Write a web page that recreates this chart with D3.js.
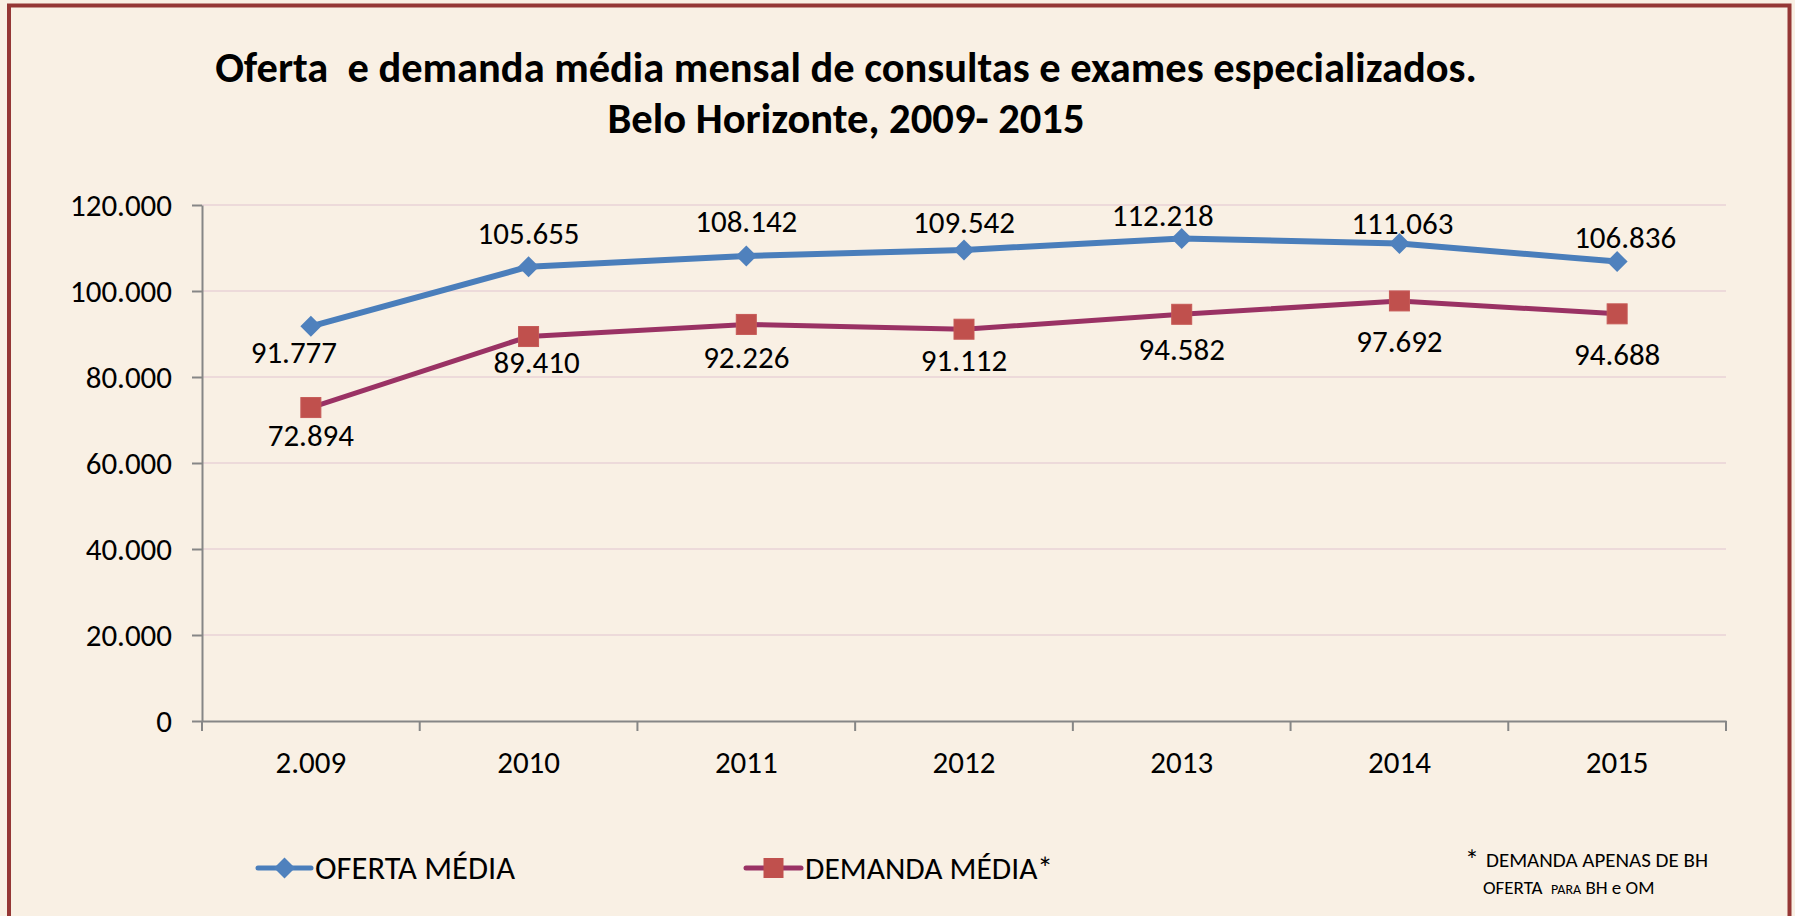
<!DOCTYPE html>
<html>
<head>
<meta charset="utf-8">
<script src="https://cdn.jsdelivr.net/npm/d3@7"></script>
<style>
  html, body { margin: 0; padding: 0; background: #F9F0E4; }
  svg { display: block; }
  text { font-family: Carlito, Calibri, Lato, "Open Sans", sans-serif; fill: #000; }
</style>
</head>
<body>
<svg id="chart" width="1795" height="916"></svg>
<script>
// ---- data ----
const categories = ["2.009", "2010", "2011", "2012", "2013", "2014", "2015"];
const oferta = [91777, 105655, 108142, 109542, 112218, 111063, 106836];
const demanda = [72894, 89410, 92226, 91112, 94582, 97692, 94688];
const seriesNames = ["OFERTA MÉDIA", "DEMANDA MÉDIA*"];
const yTicks = [0, 20000, 40000, 60000, 80000, 100000, 120000];
const titleLines = ["Oferta  e demanda média mensal de consultas e exames especializados.", "Belo Horizonte, 2009- 2015"];

// ---- layout: data-label nudges (baseline offset from point, px), as placed in the original ----
const ofertaLabelDy = [37, -23, -24, -17, -12, -9, -14];
const ofertaLabelDx = [-17, 0, 0, 0, -19, 3, 8];
const demandaLabelDy = [38, 36, 44, 42, 46, 51, 51];
const demandaLabelDx = [0, 8, 0, 0, 0, 0, 0];

const W = 1795, H = 916;
const svg = d3.select("#chart");
const locale = d3.formatLocale({decimal: ",", thousands: ".", grouping: [3], currency: ["R$", ""]});
const fmt = locale.format(",d");

function fit(sel, target) {
  const node = sel.node();
  let fs = parseFloat(sel.attr("font-size"));
  for (let i = 0; i < 3; i++) {
    const w = node.getComputedTextLength();
    fs = fs * target / w;
    sel.attr("font-size", fs);
  }
  return fs;
}

// background + border
svg.append("rect").attr("x", 0).attr("y", 0).attr("width", W).attr("height", H).attr("fill", "#F9F0E4");
svg.append("path")
  .attr("d", `M9,${H + 5} V5.5 H1789.5 V${H + 5}`)
  .attr("fill", "none").attr("stroke", "#953735").attr("stroke-width", 4);

// title
const t1 = svg.append("text").attr("x", 846).attr("y", 82).attr("text-anchor", "middle")
  .attr("font-weight", "bold").attr("font-size", 40).attr("xml:space", "preserve")
  .style("white-space", "pre").text(titleLines[0]);
fit(t1, 1262);
const t2 = svg.append("text").attr("x", 846).attr("y", 133).attr("text-anchor", "middle")
  .attr("font-weight", "bold").attr("font-size", 40).text(titleLines[1]);
fit(t2, 477);

// scales
const plot = {left: 202, right: 1726, top: 205, bottom: 721};
const x = d3.scaleBand().domain(categories).range([plot.left, plot.right]).paddingInner(0).paddingOuter(0);
const y = d3.scaleLinear().domain([0, 120000]).range([plot.bottom, plot.top]);
const cx = d => x(d) + x.bandwidth() / 2;

// measure base label font size
const probe = svg.append("text").attr("font-size", 28).text("120.000");
const labelFs = fit(probe, 102);
probe.remove();

// gridlines
svg.append("g").selectAll("line").data(yTicks.filter(d => d > 0)).join("line")
  .attr("x1", plot.left).attr("x2", plot.right)
  .attr("y1", d => y(d)).attr("y2", d => y(d))
  .attr("stroke", "#EDDADA").attr("stroke-width", 2);

// y axis
const yAxis = svg.append("g").attr("transform", `translate(${plot.left},0)`)
  .call(d3.axisLeft(y).tickValues(yTicks).tickFormat(fmt).tickSize(10).tickSizeOuter(0).tickPadding(20));
yAxis.select(".domain").attr("stroke", "#868686").attr("stroke-width", 2);
yAxis.selectAll(".tick line").attr("stroke", "#868686").attr("stroke-width", 2);
yAxis.selectAll(".tick text").attr("font-size", labelFs).attr("font-family", null).attr("fill", "#000").attr("dy", "0.35em");

// x axis
const xAxis = svg.append("g").attr("transform", `translate(0,${plot.bottom})`)
  .call(d3.axisBottom(x).tickSize(0).tickSizeOuter(0).tickPadding(30));
xAxis.select(".domain").attr("stroke", "#868686").attr("stroke-width", 2);
xAxis.selectAll(".tick line").remove();
xAxis.selectAll(".tick text").attr("font-size", labelFs).attr("font-family", null).attr("fill", "#000").attr("dy", "0.71em");
// category boundary ticks
const bounds = categories.map(c => x(c)).concat([plot.right]);
svg.append("g").selectAll("line").data(bounds).join("line")
  .attr("x1", d => d).attr("x2", d => d).attr("y1", plot.bottom).attr("y2", plot.bottom + 10)
  .attr("stroke", "#868686").attr("stroke-width", 2);

const line = d3.line().x((d, i) => cx(categories[i])).y(d => y(d));

// demanda series
svg.append("path").datum(demanda).attr("d", line).attr("fill", "none")
  .attr("stroke", "#9A3264").attr("stroke-width", 5).attr("stroke-linejoin", "round");
svg.append("g").selectAll("rect").data(demanda).join("rect")
  .attr("x", (d, i) => cx(categories[i]) - 10).attr("y", d => y(d) - 10)
  .attr("width", 20).attr("height", 20).attr("fill", "#C0504D").attr("stroke", "#C65A57").attr("stroke-width", 1);

// oferta series
svg.append("path").datum(oferta).attr("d", line).attr("fill", "none")
  .attr("stroke", "#4A7EBB").attr("stroke-width", 6).attr("stroke-linejoin", "round");
const diamond = "M0,-10.5 L10.5,0 L0,10.5 L-10.5,0 Z";
svg.append("g").selectAll("path").data(oferta).join("path")
  .attr("d", diamond)
  .attr("transform", (d, i) => `translate(${cx(categories[i])},${y(d)})`)
  .attr("fill", "#4F81BD");

// data labels
svg.append("g").selectAll("text").data(oferta).join("text")
  .attr("x", (d, i) => cx(categories[i]) + ofertaLabelDx[i])
  .attr("y", (d, i) => y(d) + ofertaLabelDy[i])
  .attr("text-anchor", "middle").attr("font-size", labelFs).text(d => fmt(d));
svg.append("g").selectAll("text").data(demanda).join("text")
  .attr("x", (d, i) => cx(categories[i]) + demandaLabelDx[i])
  .attr("y", (d, i) => y(d) + demandaLabelDy[i])
  .attr("text-anchor", "middle").attr("font-size", labelFs).text(d => fmt(d));

// legend
const legY = 868;
const leg = [
  {name: seriesNames[0], x0: 258, x1: 311, color: "#4A7EBB", mark: "diamond", fill: "#4F81BD"},
  {name: seriesNames[1], x0: 746, x1: 801, color: "#9A3264", mark: "square", fill: "#C0504D"}
];
leg.forEach((l, k) => {
  svg.append("line").attr("x1", l.x0).attr("x2", l.x1).attr("y1", legY).attr("y2", legY)
    .attr("stroke", l.color).attr("stroke-width", 5).attr("stroke-linecap", "round");
  const mx = (l.x0 + l.x1) / 2;
  if (l.mark === "diamond") {
    svg.append("path").attr("d", diamond).attr("transform", `translate(${mx},${legY})`).attr("fill", l.fill);
  } else {
    svg.append("rect").attr("x", mx - 10).attr("y", legY - 10).attr("width", 20).attr("height", 20).attr("fill", l.fill);
  }
  const t = svg.append("text").attr("x", l.x1 + 4).attr("y", legY).attr("dy", "0.35em")
    .attr("font-size", labelFs).text(l.name);
  fit(t, k === 0 ? 200 : 248);
});

// footnote
svg.append("text").attr("x", 1465).attr("y", 870).attr("font-size", 28).text("*");
const f1 = svg.append("text").attr("x", 1486).attr("y", 867).attr("font-size", 19).text("DEMANDA APENAS DE BH");
fit(f1, 222);
const f2 = svg.append("text").attr("x", 1483).attr("y", 894).attr("font-size", 19).style("white-space", "pre");
f2.append("tspan").text("OFERTA  ");
f2.append("tspan").attr("font-size", 14).text("PARA");
f2.append("tspan").text(" BH e OM");
</script>
</body>
</html>
